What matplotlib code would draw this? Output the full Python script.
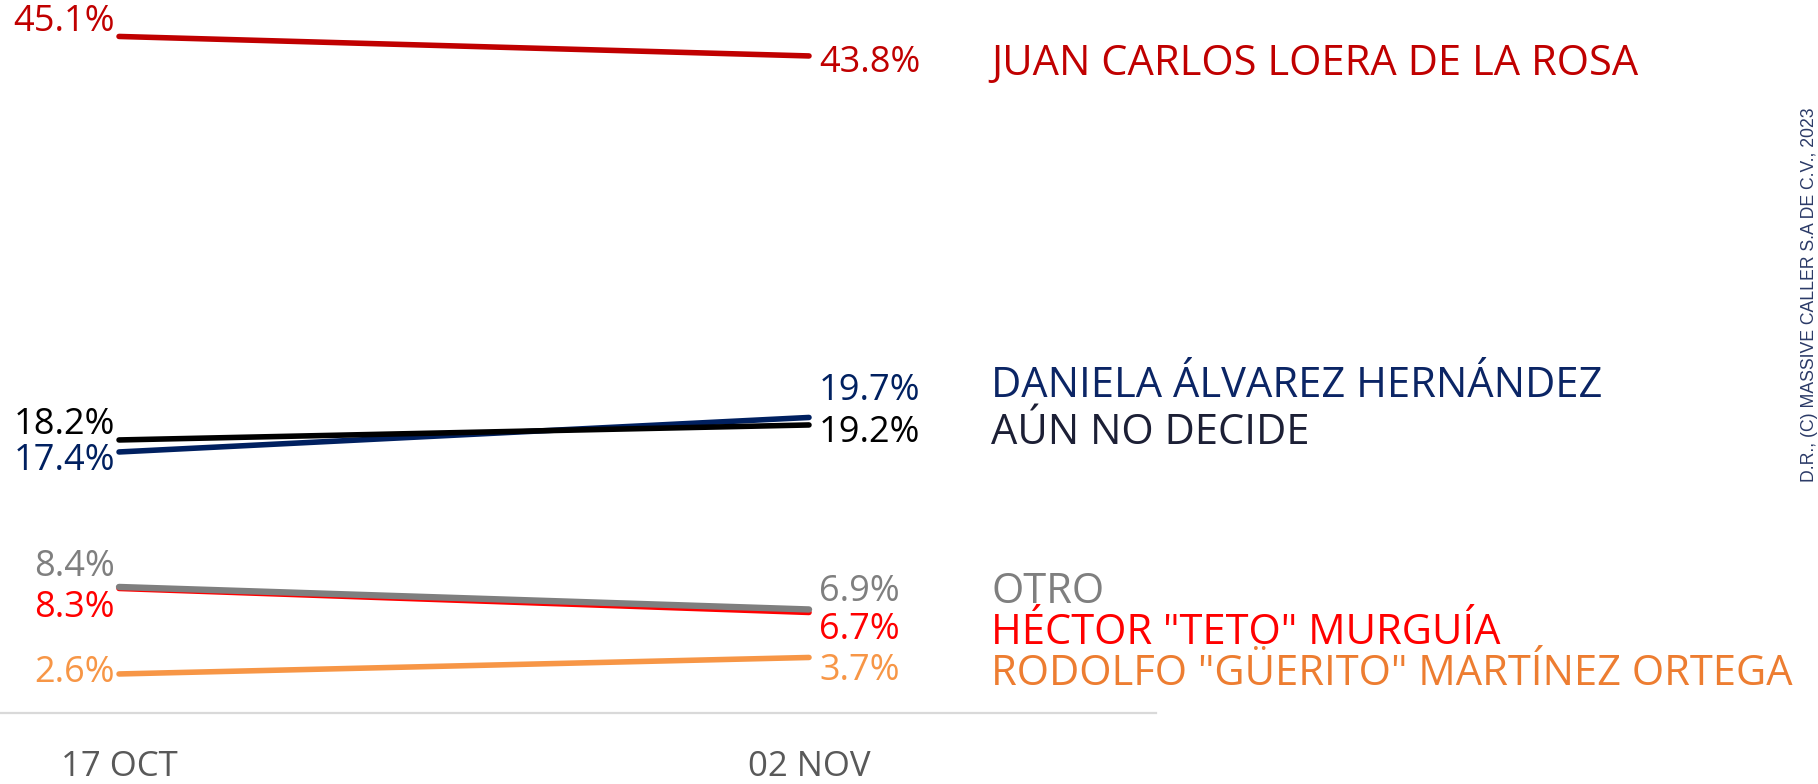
import matplotlib
matplotlib.use("Agg")
import matplotlib.pyplot as plt

# datos
fechas = ["17 OCT", "02 NOV"]
nombres = ["JUAN CARLOS LOERA DE LA ROSA", "DANIELA ÁLVAREZ HERNÁNDEZ", "AÚN NO DECIDE",
           "OTRO", 'HÉCTOR "TETO" MURGUÍA', 'RODOLFO "GÜERITO" MARTÍNEZ ORTEGA']
v_17oct = [45.1, 17.4, 18.2, 8.4, 8.3, 2.6]
v_02nov = [43.8, 19.7, 19.2, 6.9, 6.7, 3.7]

# estilo
col_linea = ["#C00000", "#002060", "#000000", "#7F7F7F", "#FF0000", "#F79646"]
col_nombre = ["#C00000", "#0B2565", "#1C1F35", "#7F7F7F", "#FF0000", "#ED7D31"]
grosor = [4.0, 4.0, 4.0, 4.6, 4.0, 4.0]
orden = [6, 4, 5, 3, 2, 1]
# desplazamientos verticales de etiquetas en pixeles (izq, der, nombre)
dy_izq = [14, -9, 15, 20, -20, 1]
dy_der = [-7, 26, -8, 17, -18, -14]
dy_nom = [-8, 31, -8, 17, -21, -17]

plt.rcParams["font.family"] = ["Open Sans", "DejaVu Sans"]

fig = plt.figure(figsize=(18.18, 7.84), dpi=100)
ax = fig.add_axes([0, 0.0906, 0.6359, 0.9094])

x = [0, 1]
for i in range(len(nombres)):
    ax.plot(x, [v_17oct[i], v_02nov[i]], color=col_linea[i], lw=grosor[i],
            solid_capstyle="round", zorder=orden[i])
    ax.annotate(f"{v_17oct[i]}%", (0, v_17oct[i]), xytext=(-4, dy_izq[i]),
                textcoords="offset pixels", ha="right", va="center",
                fontsize=26, color=col_linea[i])
    ax.annotate(f"{v_02nov[i]}%", (1, v_02nov[i]), xytext=(10, dy_der[i]),
                textcoords="offset pixels", ha="left", va="center",
                fontsize=26, color=col_linea[i])
    ax.annotate(nombres[i], (1, v_02nov[i]), xytext=(182, dy_nom[i]),
                textcoords="offset pixels", ha="left", va="center",
                fontsize=30, color=col_nombre[i], annotation_clip=False)

ax.set_xlim(-0.1725, 1.503)
ax.set_ylim(0, 47.53)
ax.set_xticks(x)
ax.set_xticklabels(fechas, fontsize=25, color="#595959")
ax.tick_params(axis="x", length=0, pad=27)
ax.set_yticks([])
for s in ["top", "right", "left"]:
    ax.spines[s].set_visible(False)
ax.spines["bottom"].set_color("#D9D9D9")
ax.spines["bottom"].set_linewidth(1.6)

fig.text(0.9952, 0.624, "D.R., (C) MASSIVE CALLER S.A DE C.V., 2023", rotation=90,
         ha="center", va="center", fontsize=12.7, color="#2B3A67",
         family="Liberation Sans")

fig.savefig("out.png", dpi=100)
